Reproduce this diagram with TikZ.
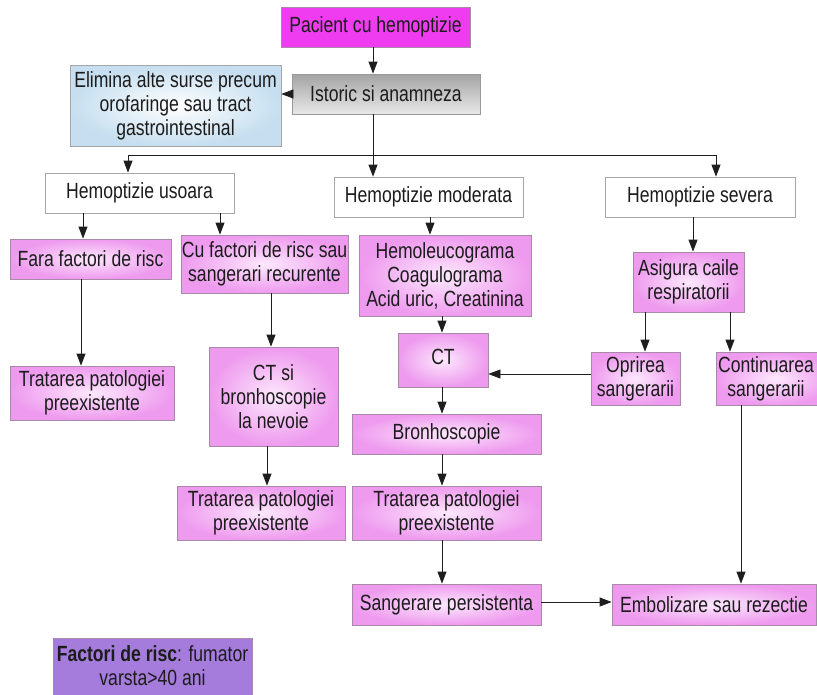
\documentclass[tikz,border=0pt]{standalone}
\usepackage{fontspec}
\setmainfont[FakeStretch=0.80]{Liberation Sans}
\usetikzlibrary{arrows.meta}
\definecolor{txt}{HTML}{1C1C1C}
\definecolor{bord}{HTML}{A88AA8}
\definecolor{pinkin}{HTML}{FDE8FD}
\definecolor{pinkout}{HTML}{EE9AEE}
\definecolor{magenta1}{HTML}{F03CF0}
\definecolor{purp}{HTML}{A57CDB}
\definecolor{blueout}{HTML}{C6DEEF}
\definecolor{linec}{HTML}{1E1E1E}
\begin{document}
\begin{tikzpicture}[x=1pt,y=-1pt,
  every node/.style={font=\fontsize{22}{24}\selectfont, text=txt, align=center, inner sep=0pt},
  sz/.style 2 args={minimum width=#1pt, minimum height=#2pt},
  pinkbox/.style={draw=bord, line width=0.8pt, inner color=pinkin, outer color=pinkout},
  whitebox/.style={draw=gray!70, line width=0.8pt, fill=white},
  arr/.style={draw=linec, line width=0.8pt, -{Triangle[length=12pt,width=9pt]}},
  ln/.style={draw=linec, line width=0.8pt}]
\useasboundingbox (0,0) rectangle (817,694);
\clip (0,0) rectangle (817,694);

% nodes
\node[draw=bord, line width=0.8pt, fill=magenta1, sz={189}{40}] (pac) at (375.5,27) {Pacient cu hemoptizie};
\node[draw=gray!80, line width=0.8pt, top color=gray!72, bottom color=gray!18, sz={188}{40}] (ist) at (386,94) {Istoric si anamneza};
\node[draw=gray!70, line width=0.8pt, inner color=white, outer color=blueout, sz={211}{81}] (elim) at (175.5,105.5) {Elimina alte surse precum\\orofaringe sau tract\\gastrointestinal};

\node[whitebox, sz={189}{40}] (uso) at (139.5,193) {Hemoptizie usoara};
\node[whitebox, sz={189}{40}] (mod) at (428.5,197) {Hemoptizie moderata};
\node[whitebox, sz={190}{40}] (sev) at (700,197) {Hemoptizie severa};

\node[pinkbox, sz={161}{40}] (fara) at (90.5,259) {Fara factori de risc};
\node[pinkbox, sz={167}{58}] (cuf) at (264.5,264) {Cu factori de risc sau\\sangerari recurente};
\node[pinkbox, sz={172}{81}] (hemo) at (445,275.5) {Hemoleucograma\\Coagulograma\\Acid uric, Creatinina};
\node[pinkbox, sz={111}{60}] (asig) at (688.5,282) {Asigura caile\\respiratorii};

\node[pinkbox, sz={90}{54}] (ct) at (443,360) {};
\node (ctt) at (443,357) {CT};
\node[pinkbox, sz={89}{53}] (opr) at (635.5,378.5) {Oprirea\\sangerarii};
\node[pinkbox, sz={118}{53}] (cont) at (775,378.5) {};
\node (contt) at (766,378.5) {Continuarea\\sangerarii};

\node[pinkbox, sz={164}{54}] (trat1) at (92,393) {Tratarea patologiei\\preexistente};
\node[pinkbox, sz={129}{99}] (ctsi) at (273.5,396.5) {CT si\\bronhoscopie\\la nevoie};

\node[pinkbox, sz={189}{40}] (bron) at (446.5,434) {Bronhoscopie};
\node[pinkbox, sz={168}{54}] (trat2) at (261,513) {Tratarea patologiei\\preexistente};
\node[pinkbox, sz={189}{54}] (trat3) at (446.5,513) {Tratarea patologiei\\preexistente};
\node[pinkbox, sz={189}{41}] (sang) at (446.5,604.5) {Sangerare persistenta};
\node[pinkbox, sz={204}{41}] (emb) at (714,604.5) {Embolizare sau rezectie};

\node[draw=bord, line width=0.8pt, fill=purp, sz={199}{62}] (fact) at (152.5,669) {};
\node (factt) at (152.5,666) {\textbf{Factori de risc}: fumator\\varsta>40 ani};

% connectors
\draw[arr] (373,0 |- pac.south) -- (373,0 |- ist.north);
\draw[arr] (ist.west) -- (elim.east |- ist.west);

\coordinate (busL) at (128,155);
\coordinate (busM) at (373,155);
\coordinate (busR) at (716,155);
\draw[ln] (busM |- ist.south) -- (busM);
\draw[ln] (busL) -- (busR);
\draw[arr] (busL) -- (busL |- uso.north);
\draw[arr] (busM) -- (busM |- mod.north);
\draw[arr] (busR) -- (busR |- sev.north);

\draw[arr] (83,0 |- uso.south) -- (83,0 |- fara.north);
\draw[arr] (220,0 |- uso.south) -- (220,0 |- cuf.north);
\draw[arr] (430,0 |- mod.south) -- (430,0 |- hemo.north);
\draw[arr] (693,0 |- sev.south) -- (693,0 |- asig.north);

\draw[arr] (81,0 |- fara.south) -- (81,0 |- trat1.north);
\draw[arr] (271,0 |- cuf.south) -- (271,0 |- ctsi.north);
\draw[arr] (267,0 |- ctsi.south) -- (267,0 |- trat2.north);

\draw[arr] (442,0 |- hemo.south) -- (442,0 |- ct.north);
\draw[arr] (645,0 |- asig.south) -- (645,0 |- opr.north);
\draw[arr] (730,0 |- asig.south) -- (730,0 |- cont.north);
\draw[arr] (opr.west |- 0,374) -- (ct.east |- 0,374);

\draw[arr] (442,0 |- ct.south) -- (442,0 |- bron.north);
\draw[arr] (442,0 |- bron.south) -- (442,0 |- trat3.north);
\draw[arr] (442,0 |- trat3.south) -- (442,0 |- sang.north);
\draw[arr] (sang.east |- 0,602) -- (emb.west |- 0,602);
\draw[arr] (741,0 |- cont.south) -- (741,0 |- emb.north);
\end{tikzpicture}
\end{document}
